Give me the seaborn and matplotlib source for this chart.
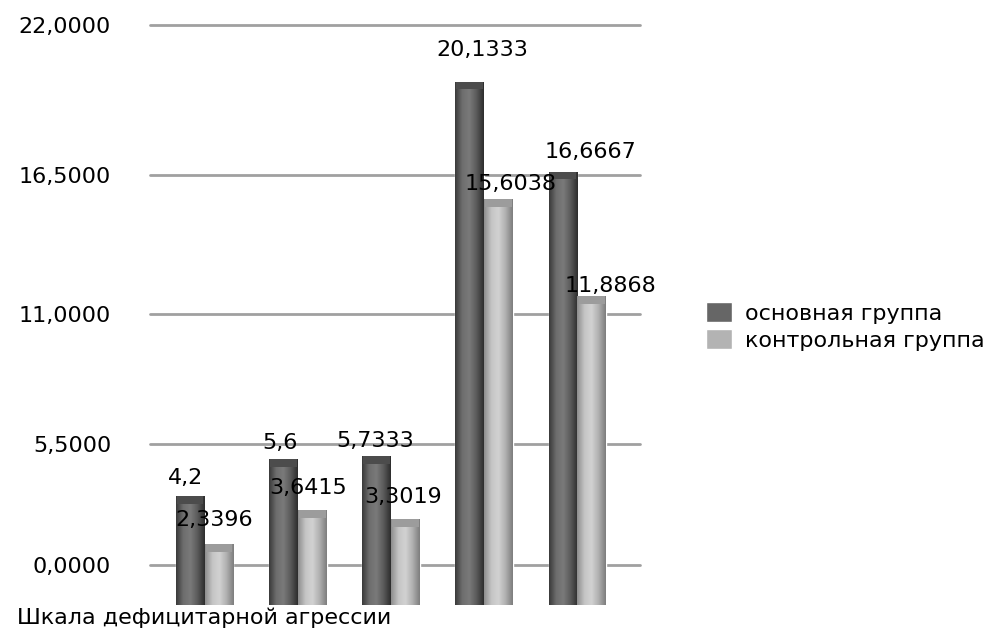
import numpy as np
import pandas as pd
import matplotlib.pyplot as plt
import seaborn as sns
from matplotlib.colors import LinearSegmentedColormap
from matplotlib.patches import Patch, Rectangle

# data ---------------------------------------------------------------------
groups = ["основная группа", "контрольная группа"]
scale_labels = ["Шкала дефицитарной агрессии", "", "", "", ""]
main_values = [4.2, 5.6, 5.7333, 20.1333, 16.6667]
control_values = [2.3396, 3.6415, 3.3019, 15.6038, 11.8868]
main_text = ["4,2", "5,6", "5,7333", "20,1333", "16,6667"]
control_text = ["2,3396", "3,6415", "3,3019", "15,6038", "11,8868"]
grid_values = [0, 5.5, 11, 16.5, 22]

df = pd.DataFrame({
    "pos": list(range(len(main_values))) * 2,
    "value": main_values + control_values,
    "group": [groups[0]] * len(main_values) + [groups[1]] * len(control_values),
})

dark = "#666666"
light = "#b3b3b3"
fs = 16

sns.set_style("white")
plt.rcParams["font.family"] = ["DejaVu Sans"]
plt.rcParams["text.color"] = "black"
plt.rcParams["xtick.color"] = "black"
plt.rcParams["ytick.color"] = "black"

fig = plt.figure(figsize=(9.94, 6.31), dpi=100)
W, H = 994, 631

# back wall: gridlines + value axis (perspective squeezed, like the 3d chart)
c = 0.00608
back = fig.add_axes([150 / W, (H - 565) / H, 490 / W, 540 / H])
back.set_yscale("function", functions=(lambda v: v / (1 - c * v), lambda s: s / (1 + c * s)))
back.set_ylim(0, 22)
back.set_xlim(0, 1)
back.set_yticks(grid_values)
back.set_yticklabels([f"{v:.4f}".replace(".", ",") for v in grid_values], fontsize=fs)
back.yaxis.set_minor_locator(plt.NullLocator())
back.tick_params(axis="y", length=0, pad=28)
back.set_xticks([])
for v in grid_values:
    back.axhline(v, color="#a0a0a0", lw=2, clip_on=False)
for s in back.spines.values():
    s.set_visible(False)

# front: the bars
ax = fig.add_axes([158 / W, (H - 605) / H, 466 / W, 572 / H])
ax.patch.set_alpha(0)
sns.barplot(data=df, x="pos", y="value", hue="group", palette=[dark, light],
            width=0.62, saturation=1, legend=False, ax=ax)

# fake the shiny 3d look with a horizontal gradient on every bar + a top face
cmaps = [
    LinearSegmentedColormap.from_list("d", ["#3a3a3a", "#6e6e6e", "#7a7a7a", "#5a5a5a", "#2e2e2e"]),
    LinearSegmentedColormap.from_list("l", ["#8e8e8e", "#c4c4c4", "#d2d2d2", "#b0b0b0", "#7e7e7e"]),
]
cap_colors = ["#4c4c4c", "#9c9c9c"]
grad = np.linspace(0, 1, 64).reshape(1, -1)
for cont, cm, capc in zip(ax.containers, cmaps, cap_colors):
    for bar in cont:
        x0, w, h = bar.get_x(), bar.get_width(), bar.get_height()
        im = ax.imshow(grad, extent=[x0, x0 + w, 0, h], aspect="auto", cmap=cm, zorder=3)
        im.set_clip_path(bar)
        ax.add_patch(Rectangle((x0 + w * 0.04, h - 0.3), w * 0.92, 0.3,
                               facecolor=capc, edgecolor="none", zorder=4))

ax.set_xlim(-0.5, 4.5)
ax.set_ylim(0, 22)

# value labels (offsets in pixels, they float around like in the original)
main_off = [(-5, 18), (-3, 16), (-1, 15), (13, 32), (27, 20)]
ctrl_off = [(-5, 24), (-4, 22), (-2, 22), (12, 15), (19, 10)]
for cont, texts, offs in zip(ax.containers, [main_text, control_text], [main_off, ctrl_off]):
    for bar, t, (dx, dy) in zip(cont, texts, offs):
        ax.annotate(t, (bar.get_x() + bar.get_width() / 2, bar.get_height()),
                    xytext=(dx, dy), textcoords="offset pixels",
                    ha="center", va="center", fontsize=fs, zorder=5)

ax.set_xticks([0])
ax.set_xticklabels(scale_labels[:1], fontsize=fs)
ax.tick_params(axis="x", length=0, pad=2)
ax.set_yticks([])
ax.set_xlabel("")
ax.set_ylabel("")
for s in ax.spines.values():
    s.set_visible(False)

handles = [Patch(facecolor=dark), Patch(facecolor=light)]
fig.legend(handles, groups, loc="upper left", bbox_to_anchor=(695 / W, 1 - 291 / H),
           frameon=False, fontsize=fs, borderpad=0, handlelength=1.15, handleheight=1.0,
           handletextpad=0.6, labelspacing=0.25)

fig.savefig("out.png", dpi=100)
